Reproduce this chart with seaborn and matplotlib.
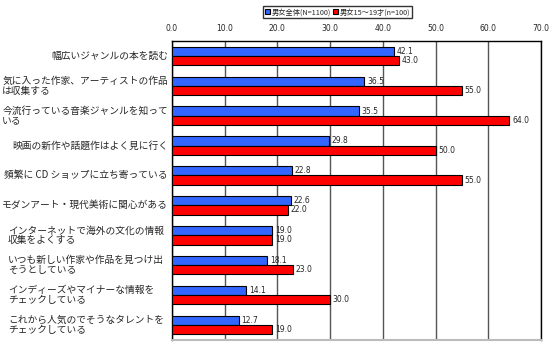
import matplotlib
matplotlib.use("Agg")
import matplotlib.pyplot as plt
import matplotlib.transforms as mtransforms
import seaborn as sns
import pandas as pd
import numpy as np

sns.set_style("white")
plt.rcParams['font.family'] = ['Noto Sans CJK JP', 'DejaVu Sans']

categories = [
    "幅広いジャンルの本を読む",
    "気に入った作家、アーティストの作品\nは収集する",
    "今流行っている音楽ジャンルを知って\nいる",
    "映画の新作や話題作はよく見に行く",
    "頻繁に CD ショップに立ち寄っている",
    "モダンアート・現代美術に関心がある",
    "インターネットで海外の文化の情報\n収集をよくする",
    "いつも新しい作家や作品を見つけ出\nそうとしている",
    "インディーズやマイナーな情報を\nチェックしている",
    "これから人気のでそうなタレントを\nチェックしている",
]
series_names = ["男女全体(N=1100)", "男女15～19才(n=100)"]
all_values = [42.1, 36.5, 35.5, 29.8, 22.8, 22.6, 19.0, 18.1, 14.1, 12.7]
teen_values = [43.0, 55.0, 64.0, 50.0, 55.0, 22.0, 19.0, 23.0, 30.0, 19.0]
x_ticks = [0, 10, 20, 30, 40, 50, 60, 70]

df = pd.DataFrame({
    "cat": categories * 2,
    "val": all_values + teen_values,
    "series": [series_names[0]] * len(categories) + [series_names[1]] * len(categories),
})

fig = plt.figure(figsize=(5.6, 3.5), dpi=100)
ax = fig.add_axes([0.307, 0.029, 0.659, 0.854])

palette = {series_names[0]: "#3366FF", series_names[1]: "#FF0000"}
sns.barplot(data=df, y="cat", x="val", hue="series", palette=palette,
            orient="h", width=0.62, edgecolor="black", linewidth=0.8,
            ax=ax, zorder=3, saturation=1)

for cont in ax.containers:
    ax.bar_label(cont, fmt="%.1f", padding=2, fontsize=5.5, family="DejaVu Sans")

ax.set_xlim(0, 70)
ax.set_ylim(len(categories) - 0.5, -0.5)
ax.set_xticks(x_ticks)
ax.set_xticklabels([f"{t:.1f}" for t in x_ticks], fontsize=5.5, family="DejaVu Sans")
ax.xaxis.tick_top()
ax.tick_params(axis="x", length=0, pad=6)
ax.set_xlabel("")
ax.set_ylabel("")
ax.grid(axis="x", color="#555555", linewidth=1, zorder=0)
ax.set_yticks(range(len(categories)))
ax.set_yticklabels([])
ax.tick_params(axis="y", length=0)
ax.set_yticks(np.arange(0.5, len(categories) - 0.5, 1), minor=True)
ax.tick_params(axis="y", which="minor", direction="in", length=3, color="black")

# category labels: single-line right-aligned at axis; multi-line left-aligned
# block (shifted left only if it would run into the axis)
trans = mtransforms.blended_transform_factory(fig.transFigure, ax.transData)
renderer = fig.canvas.get_renderer()
right_px = 168
left_px = 8
for i, cat in enumerate(categories):
    if "\n" in cat:
        t = ax.text(left_px / 560, i, cat, transform=trans, ha="left", va="center",
                    fontsize=7, linespacing=0.95)
        bb = t.get_window_extent(renderer=renderer)
        if bb.x1 > right_px:
            t.set_ha("right")
            t.set_multialignment("left")
            t.set_x(right_px / 560)
    else:
        ax.text(right_px / 560, i, cat, transform=trans, ha="right", va="center",
                fontsize=7)

for s in ["top", "left", "right"]:
    ax.spines[s].set_visible(True)
    ax.spines[s].set_color("black")
    ax.spines[s].set_linewidth(1)
ax.spines["bottom"].set_color("#BBBBBB")
ax.spines["bottom"].set_linewidth(1.5)

handles, labels = ax.get_legend_handles_labels()
ax.legend(handles, labels, loc="upper center", bbox_to_anchor=(0.603, 0.982),
          bbox_transform=fig.transFigure, ncol=2, fontsize=5.2, frameon=True,
          fancybox=False, edgecolor="black", handlelength=0.6, handleheight=0.6,
          handletextpad=0.25, columnspacing=0.4, borderpad=0.25, borderaxespad=0)

fig.savefig("out.png", dpi=100)
